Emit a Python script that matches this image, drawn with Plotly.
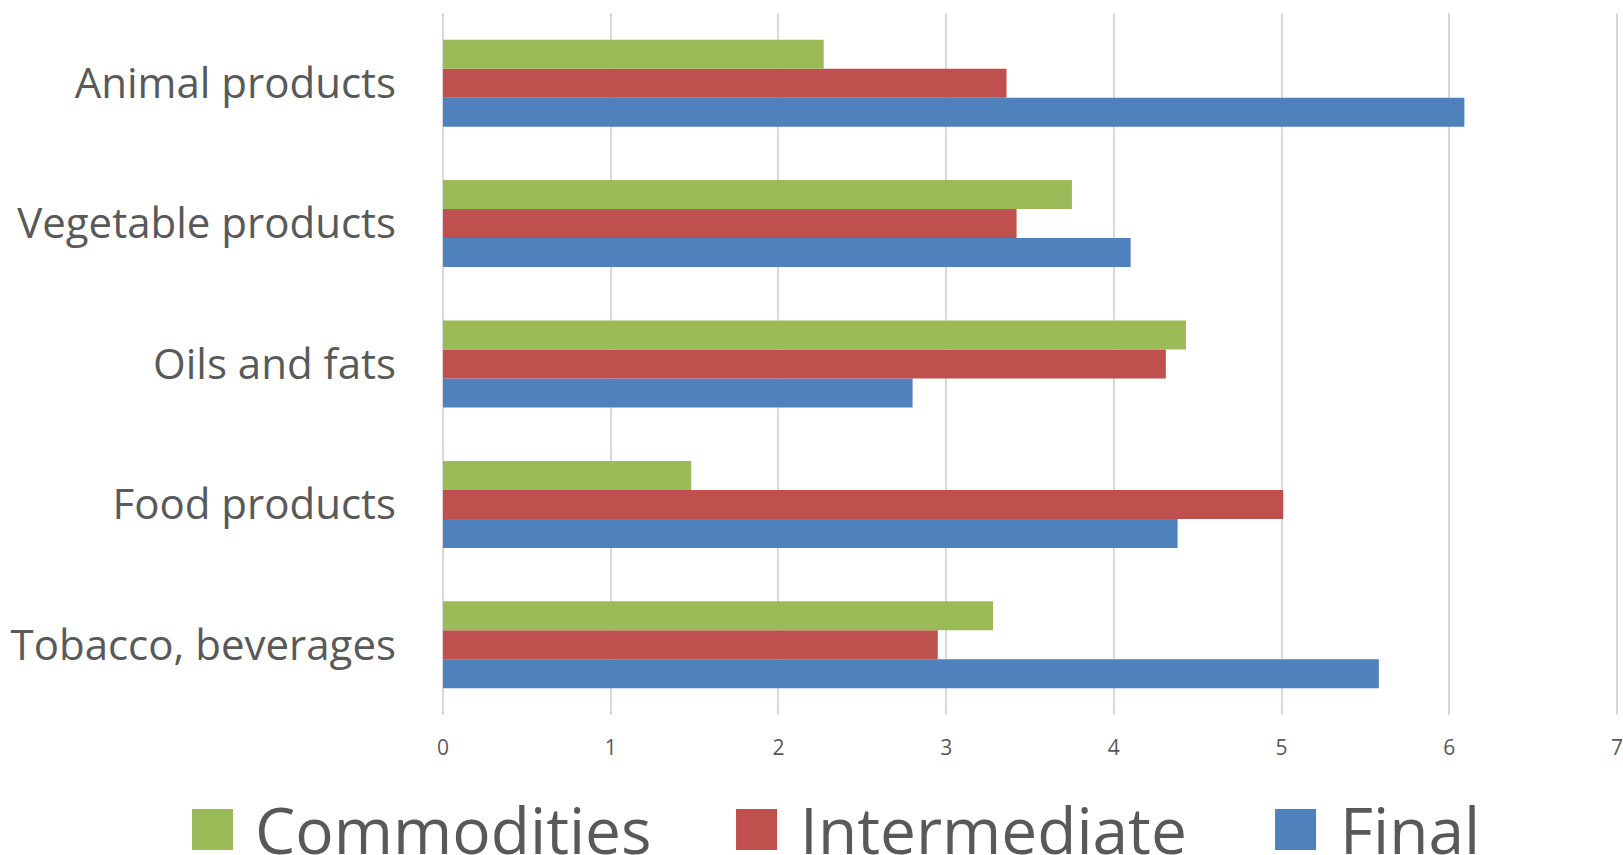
import plotly.graph_objects as go

# Categories listed bottom-to-top (Plotly draws first category at bottom)
categories = ["Tobacco, beverages", "Food products", "Oils and fats",
              "Vegetable products", "Animal products"]
series_names = ["Commodities", "Intermediate", "Final"]
commodities = [3.28, 1.48, 4.43, 3.75, 2.27]
intermediate = [2.95, 5.01, 4.31, 3.42, 3.36]
final = [5.58, 4.38, 2.80, 4.10, 6.09]
x_ticks = [0, 1, 2, 3, 4, 5, 6, 7]

colors = {"Commodities": "#9BBB59", "Intermediate": "#C0504D", "Final": "#4F81BD"}
values = {"Commodities": commodities, "Intermediate": intermediate, "Final": final}

FONT = "Open Sans"
TEXT = "#595959"

fig = go.Figure()
# Final first so it sits at the bottom of each group, Commodities on top
for name in ["Final", "Intermediate", "Commodities"]:
    fig.add_trace(go.Bar(
        y=categories, x=values[name], name=name, orientation="h",
        marker=dict(color=colors[name], line=dict(width=0)),
        showlegend=False,
    ))

W, H = 1623, 855
x_lo, x_hi = -0.012, 7.012
unit = 167.7
ml = 443 - (0 - x_lo) * unit
pw = (x_hi - x_lo) * unit
mr = W - ml - pw
mt, mb = 13, 140
ph = H - mt - mb

def px2paper_x(px):
    return (px - ml) / pw

def px2paper_y(py):
    return (H - mb - py) / ph

# Custom legend (large squares like the original)
legend_items = [("Commodities", 192, 256), ("Intermediate", 736, 801), ("Final", 1275, 1341)]
shapes = []
annotations = []
for name, sq_x, tx in legend_items:
    shapes.append(dict(type="rect", xref="paper", yref="paper",
                       x0=px2paper_x(sq_x), x1=px2paper_x(sq_x + 41),
                       y0=px2paper_y(850), y1=px2paper_y(809),
                       fillcolor=colors[name], line=dict(width=0), layer="above"))
    annotations.append(dict(xref="paper", yref="paper", x=px2paper_x(tx - 3),
                            y=px2paper_y(829), xanchor="left", yanchor="middle",
                            text=name, showarrow=False,
                            font=dict(family=FONT, size=64, color=TEXT)))

fig.update_layout(
    width=W, height=H,
    margin=dict(l=ml, r=mr, t=mt, b=mb, autoexpand=False),
    paper_bgcolor="white", plot_bgcolor="white",
    barmode="group", bargap=0.38, bargroupgap=0,
    font=dict(family=FONT, color=TEXT),
    xaxis=dict(range=[x_lo, x_hi], tickvals=x_ticks, showgrid=True, gridcolor="#D9D9D9",
               gridwidth=1.5, zeroline=False, showline=False, ticks="",
               tickfont=dict(family=FONT, size=21, color=TEXT),
               ticklabelstandoff=18, ticklabeloverflow="allow", fixedrange=True),
    yaxis=dict(showgrid=False, zeroline=False, showline=False, ticks="",
               tickfont=dict(family=FONT, size=42, color=TEXT),
               ticklabelstandoff=44, fixedrange=True),
    shapes=shapes, annotations=annotations,
    showlegend=False,
)

fig.write_html("out.html", config={"displayModeBar": False})
